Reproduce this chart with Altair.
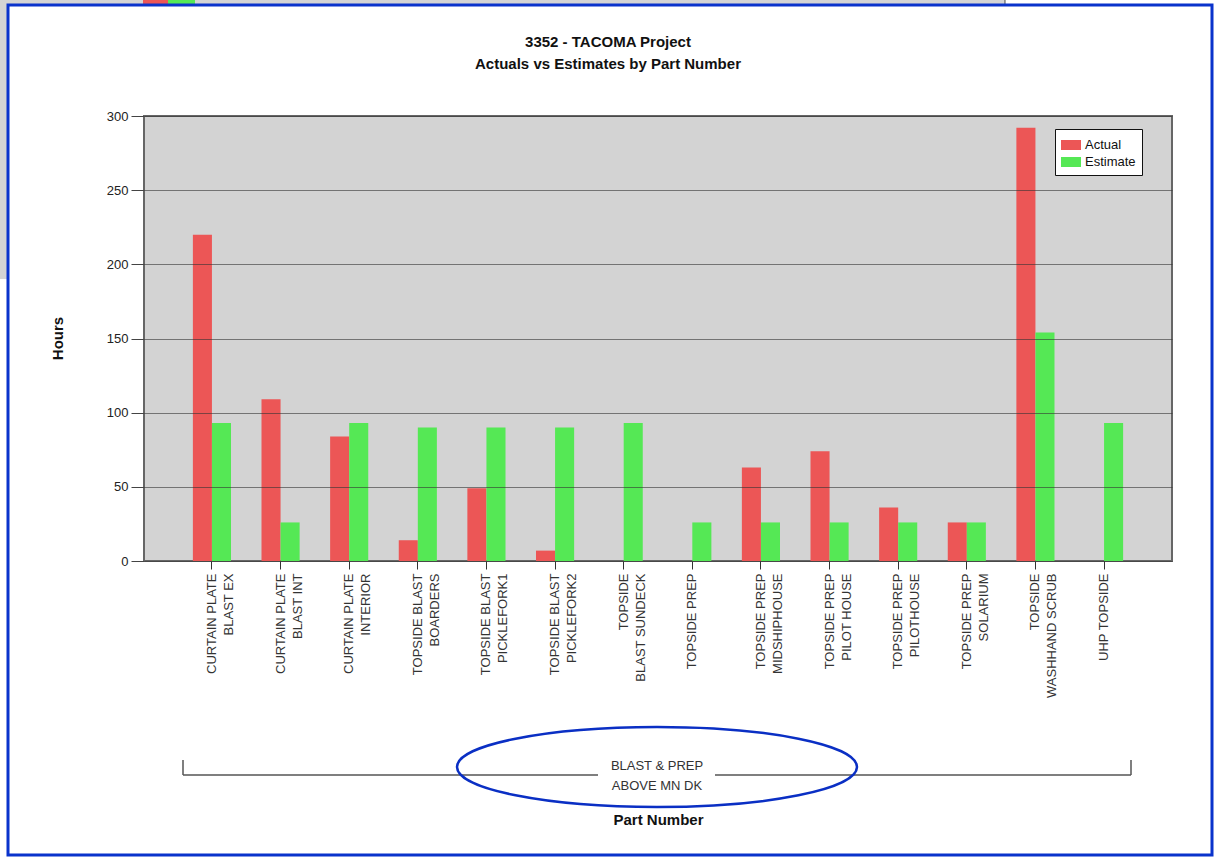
import altair as alt
import pandas as pd

parts = [
    "CURTAIN PLATE|BLAST EX",
    "CURTAIN PLATE|BLAST INT",
    "CURTAIN PLATE|INTERIOR",
    "TOPSIDE BLAST|BOARDERS",
    "TOPSIDE BLAST|PICKLEFORK1",
    "TOPSIDE BLAST|PICKLEFORK2",
    "TOPSIDE|BLAST SUNDECK",
    "TOPSIDE PREP",
    "TOPSIDE PREP|MIDSHIPHOUSE",
    "TOPSIDE PREP|PILOT HOUSE",
    "TOPSIDE PREP|PILOTHOUSE",
    "TOPSIDE PREP|SOLARIUM",
    "TOPSIDE|WASHHAND SCRUB",
    "UHP TOPSIDE",
]
actual = [220, 109, 84, 14, 49, 7, 0, 0, 63, 74, 36, 26, 292, 0]
estimate = [93, 26, 93, 90, 90, 90, 93, 26, 26, 26, 26, 26, 154, 93]
series = ["Actual", "Estimate"]
colors = ["#EC5656", "#55E855"]
y_ticks = [0, 50, 100, 150, 200, 250, 300]
group_label = ["BLAST & PREP", "ABOVE MN DK"]
title_lines = ["3352 - TACOMA Project", "Actuals vs Estimates by Part Number"]

rows = []
for p, a, e in zip(parts, actual, estimate):
    rows.append({"part": p, "series": "Actual", "hours": a})
    rows.append({"part": p, "series": "Estimate", "hours": e})
df = pd.DataFrame(rows)

W, H = 1028, 445
FONT = "Liberation Sans"

bars = alt.Chart(df).mark_bar(opacity=1).encode(
    x=alt.X(
        "part:N",
        sort=parts,
        scale=alt.Scale(paddingInner=0.2, paddingOuter=0.59),
        axis=alt.Axis(
            title="Part Number",
            titleFontSize=15,
            titleFontWeight="bold",
            titleFont=FONT,
            titleColor="#111",
            titleY=258,
            titleBaseline="middle",
            labelExpr="split(datum.label, '|')",
            labelAngle=270,
            labelAlign="right",
            labelBaseline="middle",
            labelFontSize=13,
            labelFont=FONT,
            labelColor="#333",
            labelLineHeight=17,
            labelPadding=4,
            labelLimit=300,
            tickSize=8,
            tickColor="#333",
            domain=False,
            grid=False,
        ),
    ),
    xOffset=alt.XOffset("series:N", sort=series, scale=alt.Scale(paddingInner=0, paddingOuter=0.44)),
    y=alt.Y(
        "hours:Q",
        scale=alt.Scale(domain=[0, 300], nice=False),
        axis=alt.Axis(
            title="Hours",
            titleFontSize=15,
            titleFontWeight="bold",
            titleFont=FONT,
            titleColor="#111",
            titleAngle=270,
            titleX=-87,
            titleY=222,
            titleBaseline="middle",
            titleAlign="center",
            values=y_ticks,
            labelFontSize=13,
            labelFont=FONT,
            labelColor="#222",
            labelPadding=3,
            tickSize=13,
            tickColor="#444",
            domain=False,
            grid=True,
            gridColor="#333",
            gridOpacity=0.6,
            gridWidth=1.2,
            zindex=1,
        ),
    ),
    color=alt.Color(
        "series:N",
        sort=series,
        scale=alt.Scale(domain=series, range=colors),
        legend=alt.Legend(
            title=None,
            orient="none",
            legendX=911,
            legendY=13,
            fillColor="white",
            strokeColor="#111",
            padding=6,
            symbolType="M-1,-0.5H1V0.5H-1Z",
            symbolSize=400,
            symbolStrokeWidth=0,
            symbolOpacity=1,
            labelFontSize=13,
            labelFont=FONT,
            labelColor="#111",
            labelOffset=4,
            rowPadding=-1,
        ),
    ),
)

one = pd.DataFrame({"k": [0]})

title_text = alt.Chart(one).mark_text(
    font=FONT, fontSize=15, fontWeight="bold", color="#111", lineHeight=22,
    baseline="middle", align="center"
).encode(x=alt.value(464), y=alt.value(-74), text=alt.value(title_lines))

# bracket for grouping label
rule_style = dict(color="#555", strokeWidth=1.5)
bracket_h1 = alt.Chart(one).mark_rule(**rule_style).encode(
    x=alt.value(39), x2=alt.value(454), y=alt.value(659)
)
bracket_h2 = alt.Chart(one).mark_rule(**rule_style).encode(
    x=alt.value(571), x2=alt.value(987), y=alt.value(659)
)
bracket_l = alt.Chart(one).mark_rule(**rule_style).encode(
    x=alt.value(39), y=alt.value(644), y2=alt.value(659)
)
bracket_r = alt.Chart(one).mark_rule(**rule_style).encode(
    x=alt.value(987), y=alt.value(644), y2=alt.value(659)
)
group_text = alt.Chart(one).mark_text(
    font=FONT, fontSize=13, color="#333", lineHeight=20, baseline="middle", align="center"
).encode(x=alt.value(513), y=alt.value(650), text=alt.value(group_label))

ellipse = alt.Chart(one).mark_point(
    shape="M-1,0A1,0.2 0 1,0 1,0A1,0.2 0 1,0 -1,0Z",
    size=160000,
    filled=False,
    stroke="#0A2FC4",
    strokeWidth=2.5,
    opacity=1,
).encode(x=alt.value(513), y=alt.value(651))

# screenshot frame
frame = alt.Chart(one).mark_rect(fill=None, stroke="#0A33CC", strokeWidth=3).encode(
    x=alt.value(-136), x2=alt.value(1068), y=alt.value(-111), y2=alt.value(739)
)
strip_top = alt.Chart(one).mark_rect(fill="#D4D4D4", stroke="#222", strokeWidth=0.8).encode(
    x=alt.value(-146), x2=alt.value(861), y=alt.value(-118), y2=alt.value(-111)
)
strip_red = alt.Chart(one).mark_rect(fill="#EC5656").encode(
    x=alt.value(-1), x2=alt.value(24), y=alt.value(-118), y2=alt.value(-112)
)
strip_green = alt.Chart(one).mark_rect(fill="#55E855").encode(
    x=alt.value(24), x2=alt.value(51), y=alt.value(-118), y2=alt.value(-112)
)
strip_left = alt.Chart(one).mark_rect(fill="#D4D4D4").encode(
    x=alt.value(-146), x2=alt.value(-137), y=alt.value(-116), y2=alt.value(163)
)

chart = alt.layer(
    strip_top, strip_red, strip_green, strip_left, bars, title_text,
    bracket_h1, bracket_h2, bracket_l, bracket_r, group_text, ellipse, frame
).properties(
    width=W,
    height=H,
    autosize=alt.AutoSizeParams(type="none"),
    padding={"left": 144, "top": 116, "right": 44, "bottom": 297},
    background="white",
).configure_view(
    fill="#D3D3D3", stroke="#666", strokeWidth=2
)

chart.save("out.html", embed_options={"renderer": "svg", "actions": False})
